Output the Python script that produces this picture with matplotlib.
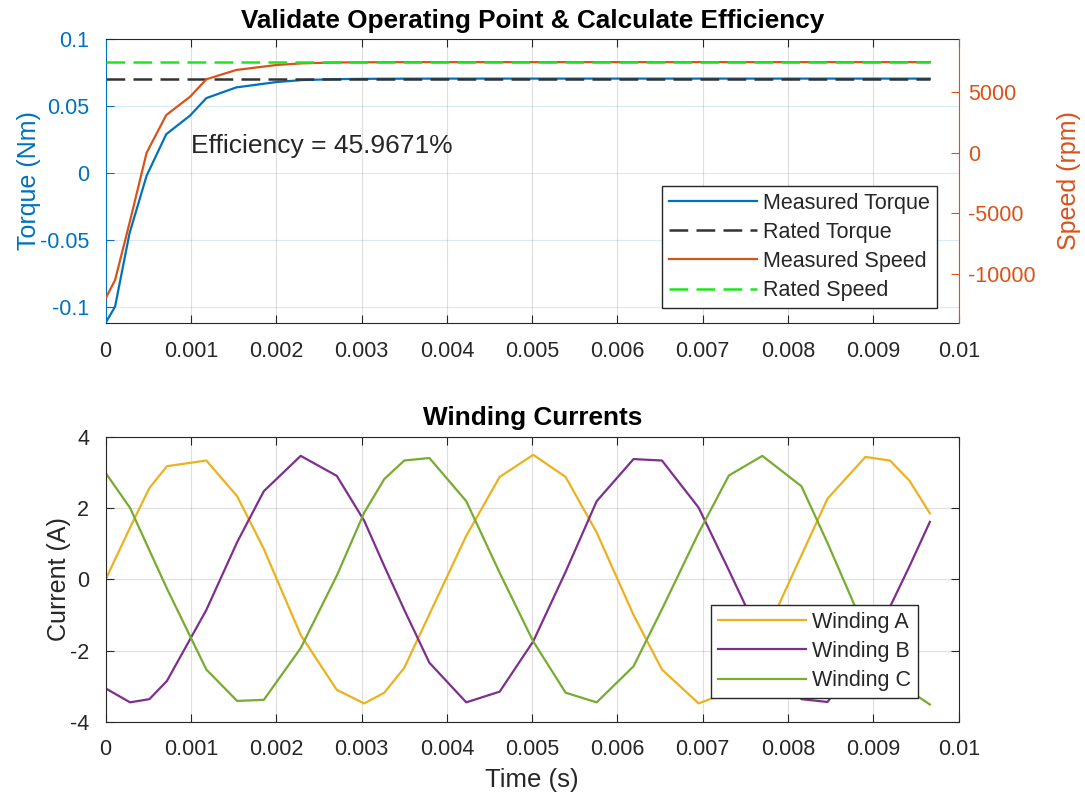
import matplotlib
matplotlib.use('Agg')
import matplotlib.pyplot as plt
from matplotlib.ticker import FormatStrFormatter
import numpy as np

plt.rcParams['font.family'] = ['Liberation Sans', 'DejaVu Sans']
plt.rcParams['axes.unicode_minus'] = False

# operating point run (times in ms)
t_op_ms = [0, 0.11, 0.28, 0.48, 0.71, 0.99, 1.18, 1.53, 2.0, 2.3, 2.7, 3.2,
           4.0, 5.0, 6.0, 7.0, 8.0, 9.0, 9.66]
torque = [-0.112, -0.100, -0.045, -0.002, 0.029, 0.043, 0.056, 0.064, 0.068,
          0.0695, 0.0702, 0.0705, 0.0706, 0.0706, 0.0706, 0.0706, 0.0706,
          0.0706, 0.0706]
speed = [-12050, -10540, -5800, 0, 3120, 4640, 6080, 6850, 7260, 7400, 7470,
         7495, 7500, 7500, 7500, 7500, 7500, 7500, 7500]
rated_torque = 0.0706
rated_speed = 7500
efficiency = 45.9671

# winding currents (times in ms)
t_cur_ms = [0, 0.286, 0.513, 0.718, 1.180, 1.541, 1.854, 2.286, 2.709, 3.031,
            3.266, 3.501, 3.795, 4.227, 4.619, 5.012, 5.392, 5.756, 6.188,
            6.521, 6.951, 7.306, 7.698, 8.156, 8.462, 8.906, 9.195, 9.424,
            9.662]
i_a = [0.0, 1.45, 2.56, 3.17, 3.33, 2.33, 0.85, -1.56, -3.1, -3.48, -3.18,
       -2.48, -0.98, 1.22, 2.87, 3.49, 2.87, 1.31, -1.0, -2.53, -3.48, -3.16,
       -1.72, 0.67, 2.26, 3.43, 3.33, 2.76, 1.85]
i_b = [-3.06, -3.45, -3.36, -2.85, -0.86, 1.04, 2.47, 3.46, 2.9, 1.64, 0.37,
       -0.86, -2.34, -3.45, -3.15, -1.74, 0.21, 2.19, 3.37, 3.33, 2.01, 0.25,
       -1.74, -3.36, -3.44, -2.0, -0.77, 0.37, 1.61]
i_c = [2.98, 2.0, 0.81, -0.26, -2.53, -3.41, -3.38, -1.93, 0.1, 1.87, 2.81,
       3.33, 3.40, 2.19, 0.18, -1.74, -3.18, -3.45, -2.44, -0.84, 1.3, 2.91,
       3.46, 2.61, 1.02, -1.43, -2.56, -3.13, -3.51]

BLUE = '#0072BD'
ORANGE = '#D95319'
YELLOW = '#EDB120'
PURPLE = '#7E2F8E'
GREEN = '#77AC30'
DARK = '#262626'

t_op = np.array(t_op_ms) * 1e-3
t_cur = np.array(t_cur_ms) * 1e-3

fig = plt.figure(figsize=(10.85, 8.02), dpi=100)


def style_legend(leg):
    leg.get_frame().set_edgecolor(DARK)
    leg.get_frame().set_linewidth(1.0)
    for txt in leg.get_texts():
        txt.set_color(DARK)


leg_kw = dict(borderaxespad=0, fontsize=15.5, fancybox=False, framealpha=1,
              handlelength=4.1, handletextpad=0.25, labelspacing=0.38,
              borderpad=0.32)

# ---- top: torque / speed ----
ax1 = fig.add_axes([0.0974, 0.5976, 0.7862, 0.3534])
ax2 = ax1.twinx()

l1, = ax1.plot(t_op, torque, color=BLUE, lw=1.6, label='Measured Torque')
l2, = ax1.plot(t_op, np.full(len(t_op), rated_torque), color='#333333', lw=1.8,
               dashes=(7.5, 3.3), label='Rated Torque')
l3, = ax2.plot(t_op, speed, color=ORANGE, lw=1.6, label='Measured Speed')
l4, = ax2.plot(t_op, np.full(len(t_op), rated_speed), color='#1EE61E', lw=1.8,
               dashes=(7.5, 3.3), label='Rated Speed')

ax1.set_xlim(0, 0.01)
ax1.set_ylim(-0.112, 0.1)
ax2.set_ylim(-14070, 9390)
ax1.set_xticks(np.arange(0, 0.0101, 0.001))
ax1.set_yticks([-0.1, -0.05, 0, 0.05, 0.1])
ax2.set_yticks([-10000, -5000, 0, 5000])
ax1.xaxis.set_major_formatter(FormatStrFormatter('%g'))
ax1.yaxis.set_major_formatter(FormatStrFormatter('%g'))

ax1.grid(axis='x', color=DARK, alpha=0.15, lw=0.8)
ax1.grid(axis='y', color=BLUE, alpha=0.15, lw=0.8)

ax1.tick_params(axis='x', direction='in', top=True, length=6, pad=13,
                labelsize=15.5, colors=DARK)
ax1.tick_params(axis='y', direction='in', length=6, pad=12, labelsize=15.5,
                colors=BLUE)
ax2.tick_params(axis='y', direction='in', length=6, pad=7, labelsize=15.5,
                colors=ORANGE)

for s in ('top', 'bottom'):
    ax1.spines[s].set_color(DARK)
ax1.spines['left'].set_color(BLUE)
ax1.spines['right'].set_visible(False)
for s in ('top', 'bottom', 'left'):
    ax2.spines[s].set_visible(False)
ax2.spines['right'].set_color(ORANGE)

ax1.set_ylabel('Torque (Nm)', color=BLUE, fontsize=18, labelpad=-1)
ax2.set_ylabel('Speed (rpm)', color=ORANGE, fontsize=18, labelpad=15)
ax1.set_title('Validate Operating Point & Calculate Efficiency',
              fontsize=18.8, fontweight='bold', pad=8)

ax1.text(0.001, 0.02, 'Efficiency = %g%%' % efficiency, fontsize=19,
         color=DARK, va='center', ha='left')

leg = ax2.legend(handles=[l1, l2, l3, l4], loc='lower right',
                 bbox_to_anchor=(0.974, 0.052), **leg_kw)
style_legend(leg)

# ---- bottom: winding currents ----
ax3 = fig.add_axes([0.0974, 0.0998, 0.7862, 0.3558])
la, = ax3.plot(t_cur, i_a, color=YELLOW, lw=1.6, label='Winding A')
lb, = ax3.plot(t_cur, i_b, color=PURPLE, lw=1.6, label='Winding B')
lc, = ax3.plot(t_cur, i_c, color=GREEN, lw=1.6, label='Winding C')

ax3.set_xlim(0, 0.01)
ax3.set_ylim(-4, 4)
ax3.set_xticks(np.arange(0, 0.0101, 0.001))
ax3.set_yticks([-4, -2, 0, 2, 4])
ax3.xaxis.set_major_formatter(FormatStrFormatter('%g'))
ax3.grid(True, color=DARK, alpha=0.15, lw=0.8)
ax3.tick_params(direction='in', top=True, right=True, length=6, pad=12,
                labelsize=15.5, colors=DARK)
for s in ax3.spines.values():
    s.set_color(DARK)
ax3.set_xlabel('Time (s)', fontsize=18.5, color=DARK, labelpad=6)
ax3.set_ylabel('Current (A)', fontsize=18, color=DARK, labelpad=-1)
ax3.set_title('Winding Currents', fontsize=18.8, fontweight='bold', pad=8)

leg2 = ax3.legend(loc='lower right', bbox_to_anchor=(0.952, 0.084), **leg_kw)
style_legend(leg2)

fig.savefig('out.png', dpi=100)
